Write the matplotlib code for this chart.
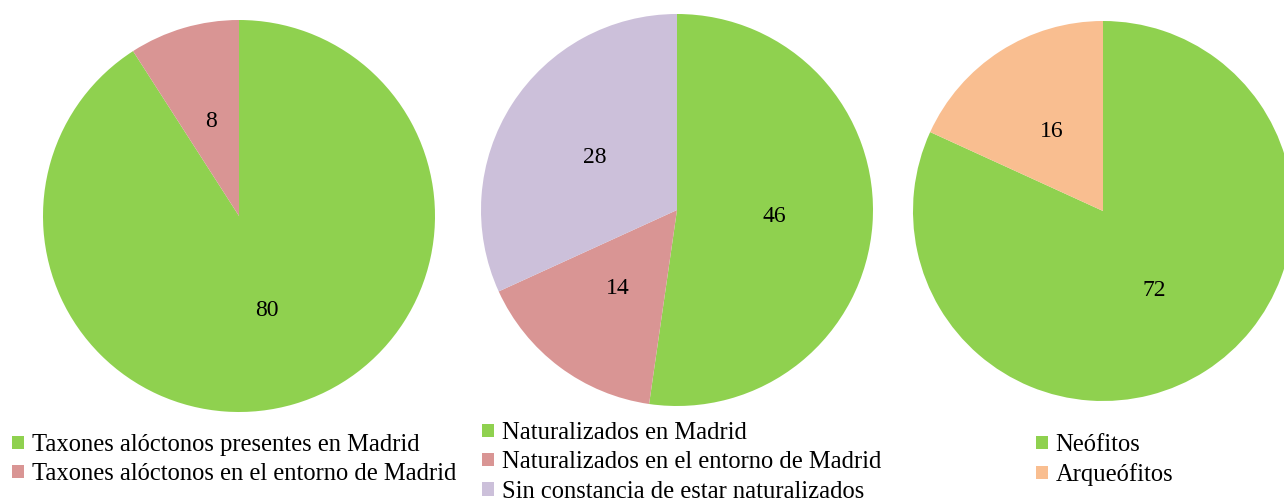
import matplotlib.pyplot as plt
from matplotlib.patches import Patch

plt.rcParams['font.family'] = ['Liberation Serif', 'DejaVu Serif']

# datos de los tres gráficos
etiquetas_1 = ["Taxones alóctonos presentes en Madrid", "Taxones alóctonos en el entorno de Madrid"]
valores_1 = [80, 8]
colores_1 = ["#8FD14F", "#D99594"]

etiquetas_2 = ["Naturalizados en Madrid", "Naturalizados en el entorno de Madrid",
               "Sin constancia de estar naturalizados"]
valores_2 = [46, 14, 28]
colores_2 = ["#8FD14F", "#D99594", "#CCC0DA"]

etiquetas_3 = ["Neófitos", "Arqueófitos"]
valores_3 = [72, 16]
colores_3 = ["#8FD14F", "#F9BE90"]

W, H = 1284, 500
fig = plt.figure(figsize=(W / 100, H / 100), dpi=100)


def tarta(cx, cy, r, valores, colores):
    # ejes cuadrados en píxeles, centrados en (cx, cy)
    ax = fig.add_axes([(cx - r) / W, (H - cy - r) / H, 2 * r / W, 2 * r / H])
    total = sum(valores)
    ax.pie(valores, colors=colores, startangle=90, counterclock=False, radius=1,
           autopct=lambda p: f"{p * total / 100:.0f}", pctdistance=0.5,
           textprops={'fontsize': 17, 'color': 'black'})
    ax.set_xlim(-1, 1)
    ax.set_ylim(-1, 1)
    ax.set_axis_off()
    return ax


def leyenda(x, y, etiquetas, colores):
    handles = [Patch(facecolor=c, edgecolor='none') for c in colores]
    fig.legend(handles, etiquetas, loc='upper left', bbox_to_anchor=(x / W, 1 - y / H),
               frameon=False, fontsize=17.7, handlelength=0.5, handleheight=0.45,
               handletextpad=0.3, labelspacing=0.3, borderpad=0, borderaxespad=0)


tarta(239, 216, 196, valores_1, colores_1)
tarta(677, 210, 196, valores_2, colores_2)
tarta(1103, 211, 190, valores_3, colores_3)

leyenda(12, 434, etiquetas_1, colores_1)
leyenda(482, 422, etiquetas_2, colores_2)
leyenda(1036, 434, etiquetas_3, colores_3)

fig.savefig("out.png", dpi=100)
